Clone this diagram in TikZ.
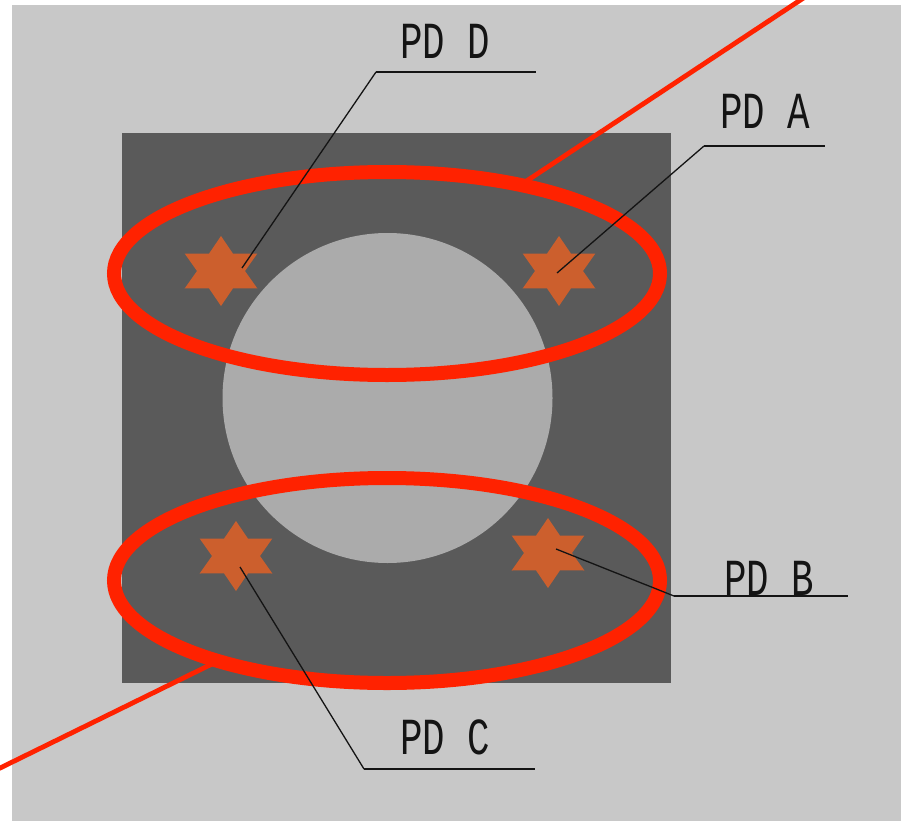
\documentclass[tikz,border=0pt]{standalone}
\usepackage{fontspec}
\newfontfamily\plotfont{Liberation Mono}
\definecolor{panel}{HTML}{C8C8C8}
\definecolor{plate}{HTML}{5A5A5A}
\definecolor{aperture}{HTML}{ABABAB}
\definecolor{ringred}{HTML}{FF2200}
\definecolor{diode}{HTML}{CC5F2D}
\definecolor{ink}{HTML}{141414}
\tikzset{
  ring/.style={draw=ringred, line width=14pt},
  beam/.style={draw=ringred, line width=4.8pt},
  leader/.style={draw=ink, line width=1.3pt},
  rule/.style={draw=ink, line width=2pt},
  tag/.style={inner sep=0pt, text=ink, font=\plotfont\fontsize{52}{52}\selectfont, xscale=0.72},
  diodestar/.style={fill=diode},
}
% six-pointed detector marker, slightly wider than tall
\newcommand\hexstar[1]{%
  \fill[diodestar, shift={(#1)}, xscale=1.2]
    (90:35) -- (60:20) -- (30:35) -- (0:20) -- (-30:35) -- (-60:20) --
    (-90:35) -- (-120:20) -- (-150:35) -- (180:20) -- (150:35) -- (120:20) -- cycle;}
\begin{document}
\begin{tikzpicture}[x=1pt, y=-1pt]
\useasboundingbox (0,0) rectangle (901,821);
\clip (0,0) rectangle (901,821);
\fill[white] (0,0) rectangle (901,821);
\fill[panel] (12,5) rectangle (901,821);

% detector plate with central aperture
\fill[plate] (122,133) rectangle (671,683);
\fill[aperture] (387.5,398) circle (165);

% beam axis
\coordinate (beamIn) at (805,-3);
\coordinate (beamTopEnd) at (525,182);
\coordinate (beamOut) at (-6,771);
\coordinate (beamLowEnd) at (216,662);
\draw[beam] (beamIn) -- (beamTopEnd);
\draw[beam] (beamOut) -- (beamLowEnd);

% rings
\draw[ring] (387,273.5) ellipse [x radius=273, y radius=101.5];
\draw[ring] (387,580.5) ellipse [x radius=273, y radius=102.5];

% photodiodes
\coordinate (starD) at (221,271);
\coordinate (starA) at (559,271);
\coordinate (starC) at (236,556);
\coordinate (starB) at (548,553);
\hexstar{starD}
\hexstar{starA}
\hexstar{starC}
\hexstar{starB}

% leader lines
\coordinate (tipD) at (242,268);  \coordinate (kneeD) at (376,72);  \coordinate (endD) at (536,72);
\coordinate (tipA) at (557,273);  \coordinate (kneeA) at (704,146); \coordinate (endA) at (825,146);
\coordinate (tipB) at (556,549);  \coordinate (kneeB) at (674,596); \coordinate (endB) at (848,596);
\coordinate (tipC) at (240,567);  \coordinate (kneeC) at (364,769); \coordinate (endC) at (535,769);
\foreach \n in {D,A,B,C}{
  \draw[leader] (tip\n) -- (knee\n);
  \draw[rule] (knee\n) -- (end\n);
}

% labels
\node[tag, anchor=base west] (labD) at (400,59) {PD D};
\node[tag, anchor=base west] (labA) at (720,129) {PD A};
\node[tag, anchor=base west] (labB) at (724,595) {PD B};
\node[tag, anchor=base west] (labC) at (400,754) {PD C};
\end{tikzpicture}
\end{document}
